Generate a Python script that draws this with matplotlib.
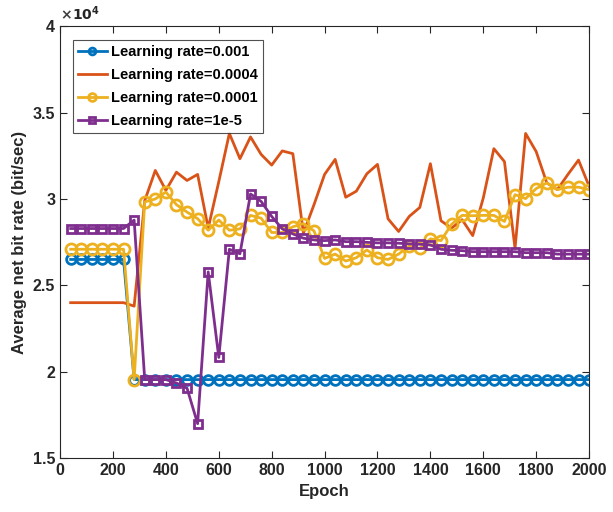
import numpy as np
import matplotlib
matplotlib.use("Agg")
import matplotlib.pyplot as plt
from matplotlib.ticker import FuncFormatter

plt.rcParams['font.family'] = ['Liberation Sans', 'DejaVu Sans']
plt.rcParams['font.weight'] = 'bold'

# epochs 40..2000
epochs = list(range(40, 2001, 40))

# values in units of 1e4 bit/sec
lr_001 = [2.65] * 6 + [1.955] * 44

lr_0004 = [2.40, 2.40, 2.40, 2.40, 2.40, 2.40, 2.38, 2.99, 3.165, 3.05,
           3.155, 3.107, 3.142, 2.831, 3.10, 3.379, 3.233, 3.359, 3.258, 3.196,
           3.278, 3.262, 2.802, 2.967, 3.142, 3.229, 3.01, 3.045, 3.146, 3.20,
           2.885, 2.812, 2.899, 2.951, 3.204, 2.874, 2.831, 2.88, 2.788, 3.006,
           3.291, 3.216, 2.714, 3.379, 3.274, 3.093, 3.054, 3.142, 3.225, 3.074]

lr_0001 = [2.709, 2.709, 2.709, 2.709, 2.709, 2.709, 1.955, 2.983, 3.0, 3.04,
           2.967, 2.924, 2.886, 2.819, 2.878, 2.819, 2.827, 2.905, 2.889, 2.806,
           2.806, 2.839, 2.858, 2.815, 2.656, 2.681, 2.641, 2.66, 2.705, 2.66,
           2.65, 2.681, 2.728, 2.714, 2.769, 2.759, 2.853, 2.905, 2.903, 2.905,
           2.905, 2.87, 3.025, 3.002, 3.06, 3.093, 3.054, 3.068, 3.068, 3.054]

lr_1e5 = [2.829, 2.829, 2.829, 2.829, 2.829, 2.829, 2.878, 1.955, 1.955, 1.955,
          1.935, 1.905, 1.70, 2.578, 2.083, 2.709, 2.683, 3.029, 2.986, 2.899,
          2.827, 2.798, 2.773, 2.763, 2.759, 2.763, 2.753, 2.753, 2.749, 2.746,
          2.746, 2.744, 2.74, 2.738, 2.734, 2.709, 2.703, 2.701, 2.695, 2.695,
          2.695, 2.695, 2.695, 2.689, 2.689, 2.689, 2.681, 2.681, 2.681, 2.681]

labels = ['Learning rate=0.001', 'Learning rate=0.0004',
          'Learning rate=0.0001', 'Learning rate=1e-5']
colors = ['#0072BD', '#D95319', '#EDB120', '#7E2F8E']

scale = 1e4
fig = plt.figure(figsize=(6.13, 5.12), dpi=100)
ax = fig.add_axes([0.098, 0.105, 0.863, 0.844])

ax.plot(epochs, np.array(lr_001) * scale, '-o', color=colors[0], lw=2,
        ms=7, mfc='none', mew=2, label=labels[0])
ax.plot(epochs, np.array(lr_0004) * scale, '-', color=colors[1], lw=2,
        label=labels[1])
ax.plot(epochs, np.array(lr_0001) * scale, '-o', color=colors[2], lw=2,
        ms=8, mfc='none', mew=2, label=labels[2])
ax.plot(epochs, np.array(lr_1e5) * scale, '-s', color=colors[3], lw=2,
        ms=5.5, mfc='none', mew=2, label=labels[3])

ax.set_xlim(0, 2000)
ax.set_ylim(1.5e4, 4e4)
ax.set_xticks(range(0, 2001, 200))
ax.set_yticks(np.arange(1.5, 4.01, 0.5) * scale)
ax.yaxis.set_major_formatter(FuncFormatter(lambda v, p: f'{v / scale:g}'))

ax.tick_params(direction='in', length=5, width=0.8, colors='#262626',
               labelsize=11.5, top=True, right=True)
for lab in ax.get_xticklabels() + ax.get_yticklabels():
    lab.set_fontweight('bold')
for s in ax.spines.values():
    s.set_color('#262626')
    s.set_linewidth(0.8)

ax.text(0.0, 1.008, r'$\times$', transform=ax.transAxes,
        fontsize=10, color='#404040', ha='left', va='bottom')
ax.text(0.022, 1.008, r'$\mathbf{10^4}$', transform=ax.transAxes,
        fontsize=10, color='#262626', ha='left', va='bottom')

ax.set_xlabel('Epoch', fontsize=12, fontweight='bold', color='#262626')
ax.set_ylabel('Average net bit rate (bit/sec)', fontsize=12,
              fontweight='bold', color='#262626')

leg = ax.legend(loc='upper left', bbox_to_anchor=(0.024, 0.968), fontsize=10.5,
                frameon=True, fancybox=False, edgecolor='#262626',
                handlelength=2.0, borderpad=0.35, labelspacing=0.62,
                handletextpad=0.25, borderaxespad=0, markerscale=0.7)
leg.get_frame().set_linewidth(0.8)
for t in leg.get_texts():
    t.set_fontweight('bold')

fig.savefig('out.png', dpi=100)
